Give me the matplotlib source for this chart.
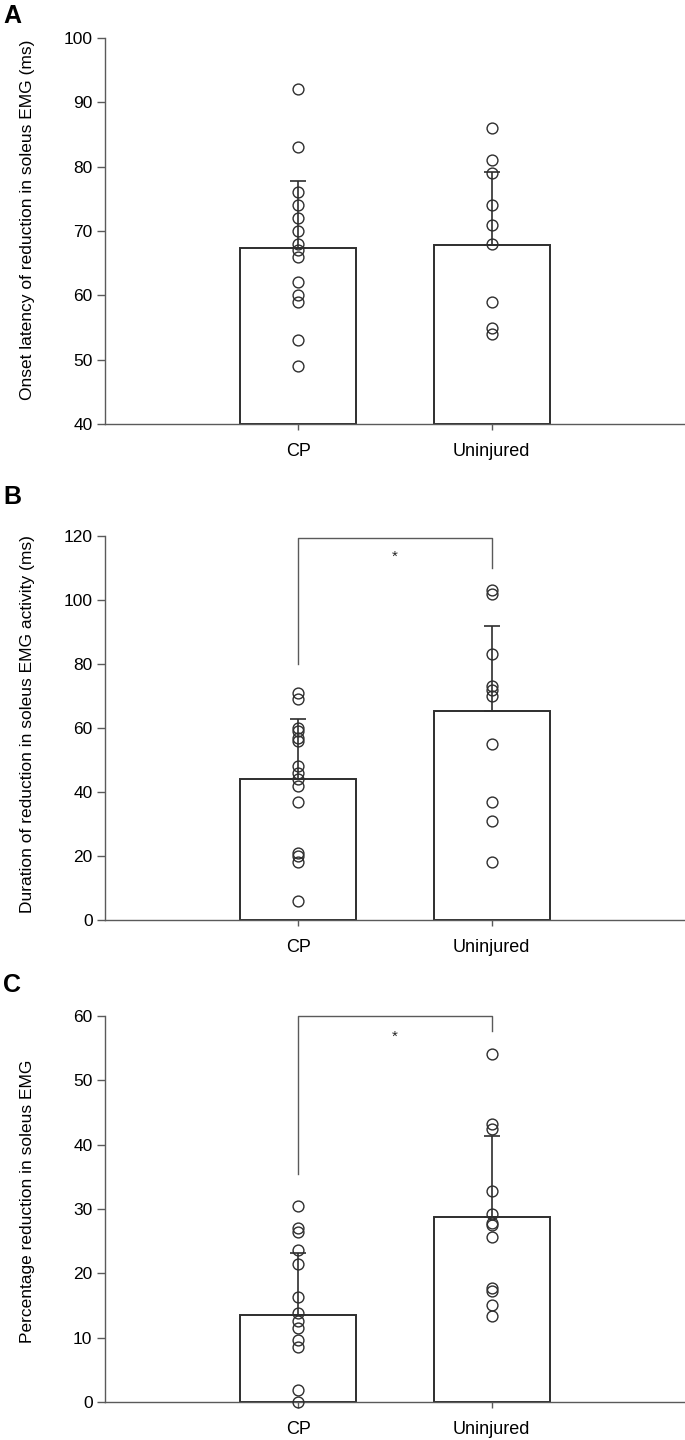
#!/usr/bin/env python
"""
Soleus EMG reduction: CP vs uninjured (bar + individual points)
"""

import matplotlib
matplotlib.use("Agg")
import matplotlib.pyplot as plt
import numpy as np

plt.rcParams['font.family'] = ['Liberation Sans', 'DejaVu Sans']

groups = ["CP", "Uninjured"]

# Panel A - onset latency (ms)
onset_cp = [92, 83, 76, 74, 72, 70, 68, 67, 66, 62, 60, 59, 53, 49]
onset_un = [86, 81, 79, 74, 71, 68, 59, 55, 54]
onset_mean = [67.4, 67.9]
onset_sd = [10.4, 11.2]

# Panel B - duration of reduction (ms)
dur_cp = [71, 69, 60, 59, 57, 56, 48, 46, 44, 42, 37, 21, 20, 18, 6]
dur_un = [103, 102, 83, 73, 72, 70, 55, 37, 31, 18]
dur_mean = [44.1, 65.4]
dur_sd = [18.7, 26.4]

# Panel C - percentage reduction
pct_cp = [30.4, 27.0, 26.5, 23.7, 21.4, 16.3, 13.9, 12.6, 11.5, 9.6, 8.5, 1.8, 0.0]
pct_un = [54.1, 43.2, 42.4, 32.8, 29.3, 27.8, 27.5, 25.7, 17.7, 17.2, 15.1, 13.3]
pct_mean = [13.5, 28.8]
pct_sd = [9.7, 12.6]

AX_COL = "#5a5a5a"
EDGE = "#2e2e2e"

fig = plt.figure(figsize=(6.85, 14.4), dpi=100)

W, H = 685.0, 1440.0
left = 105 / W
width = 1 - left


def make_axes(top_px, bottom_px):
    return fig.add_axes([left, 1 - bottom_px / H, width, (bottom_px - top_px) / H])


def draw_panel(ax, cp, un, means, sds, ylim, yticks, ylabel, label_y):
    base = ylim[0]
    x = np.arange(len(groups))
    ax.bar(x, np.array(means) - base, bottom=base, width=0.6, color="white",
           edgecolor=EDGE, linewidth=1.4, zorder=2)
    ax.errorbar(x, means, yerr=[[0, 0], sds], fmt="none", ecolor=EDGE,
                elinewidth=1.2, capsize=5.5, capthick=1.2, zorder=3)
    for xi, vals in zip(x, [cp, un]):
        ax.plot(np.full(len(vals), xi), vals, "o", mfc="none", mec=EDGE,
                ms=7.8, mew=1.0, zorder=4, clip_on=False)
    ax.set_xlim(-1, 2)
    ax.set_ylim(*ylim)
    ax.set_yticks(yticks)
    ax.set_xticks(x)
    ax.set_xticklabels(groups, fontsize=13)
    for s in ["top", "right"]:
        ax.spines[s].set_visible(False)
    for s in ["left", "bottom"]:
        ax.spines[s].set_color(AX_COL)
        ax.spines[s].set_linewidth(1.0)
    ax.tick_params(axis="y", direction="out", length=6, width=1.0,
                   color=AX_COL, labelsize=12.5, pad=3)
    ax.tick_params(axis="x", direction="out", length=4, width=1.0,
                   color=AX_COL, pad=10)
    ax.set_ylabel(ylabel, fontsize=12.5)
    ax.yaxis.set_label_coords(-0.121, label_y)


def bracket(ax, y_top, y_left, y_right, star_y):
    ax.plot([0, 0, 1, 1], [y_left, y_top, y_top, y_right], color=AX_COL,
            lw=1.0, clip_on=False, zorder=1)
    ax.text(0.5, star_y, "*", ha="center", va="center", fontsize=11, color="#222222")


axA = make_axes(38, 424)
draw_panel(axA, onset_cp, onset_un, onset_mean, onset_sd, (40, 100),
           range(40, 101, 10), "Onset latency of reduction in soleus EMG (ms)", 0.53)

axB = make_axes(536, 920)
draw_panel(axB, dur_cp, dur_un, dur_mean, dur_sd, (0, 120),
           range(0, 121, 20), "Duration of reduction in soleus EMG activity (ms)", 0.51)
bracket(axB, 119.5, 80, 110, 113.5)

axC = make_axes(1016, 1402)
draw_panel(axC, pct_cp, pct_un, pct_mean, pct_sd, (0, 60),
           range(0, 61, 10), "Percentage reduction in soleus EMG", 0.52)
bracket(axC, 60, 35.4, 57.7, 56.8)

for letter, ypx in [("A", 16), ("B", 497), ("C", 985)]:
    fig.text(12 / W, 1 - ypx / H, letter, fontsize=18, fontweight="bold",
             ha="center", va="center")

fig.savefig("out.png", dpi=100)
